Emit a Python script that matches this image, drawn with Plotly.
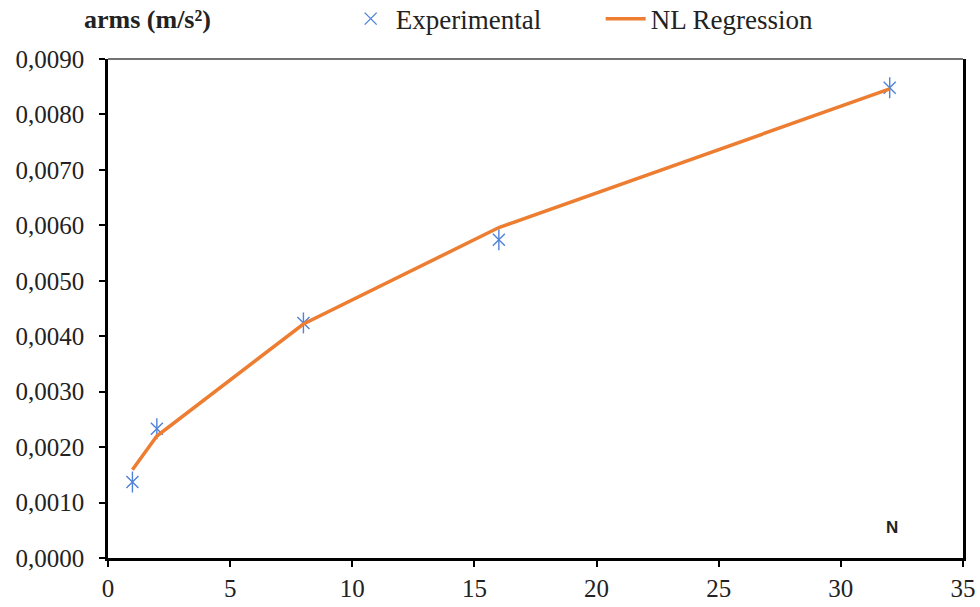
import plotly.graph_objects as go

# Sample counts and measured RMS acceleration
n_values = [1, 2, 8, 16, 32]
arms_experimental = [0.00137, 0.00233, 0.00424, 0.00574, 0.00848]
arms_regression = [0.00159, 0.00220, 0.00422, 0.00596, 0.00846]

y_ticks = [0.000, 0.001, 0.002, 0.003, 0.004, 0.005, 0.006, 0.007, 0.008, 0.009]
x_ticks = [0, 5, 10, 15, 20, 25, 30, 35]

serif = "Liberation Serif"
text_color = "#222222"
marker_color = "#4F82D8"

fig = go.Figure()
# Star marker: a thin X plus a vertical stroke
fig.add_trace(go.Scatter(
    x=n_values, y=arms_experimental, mode="markers", name="Experimental",
    legendgroup="exp",
    marker=dict(symbol="x-thin-open", size=12, color=marker_color,
                line=dict(width=1.4, color=marker_color)),
))
fig.add_trace(go.Scatter(
    x=n_values, y=arms_experimental, mode="markers", name="Experimental",
    legendgroup="exp", showlegend=False,
    marker=dict(symbol="line-ns-open", size=15, color=marker_color,
                line=dict(width=1.4, color=marker_color)),
))
fig.add_trace(go.Scatter(
    x=n_values, y=arms_regression, mode="lines", name="NL Regression",
    line=dict(color="#ED7D31", width=3.5),
))

fig.update_layout(
    width=980, height=607,
    margin=dict(l=108, r=17, t=59, b=49, autoexpand=False),
    paper_bgcolor="white", plot_bgcolor="white",
    separators=", ",
    font=dict(family=serif, size=25, color=text_color),
    showlegend=True,
    legend=dict(orientation="h", x=0.278, y=1.08, xanchor="left", yanchor="middle",
                font=dict(family=serif, size=27, color=text_color),
                itemwidth=40, tracegroupgap=0, bgcolor="rgba(0,0,0,0)",
                entrywidth=200),
    xaxis=dict(range=[0, 35], tickvals=x_ticks, showgrid=False, zeroline=False,
               showline=True, linecolor="black", linewidth=2.5,
               ticks="outside", ticklen=6, tickwidth=1.5, tickcolor="black",
               tickfont=dict(family=serif, size=25, color=text_color)),
    yaxis=dict(range=[0, 0.009], tickvals=y_ticks, tickformat=".4f", showgrid=False,
               zeroline=False, showline=True, linecolor="black", linewidth=2.5,
               mirror=True, ticklabelstandoff=10,
               ticks="outside", ticklen=6, tickwidth=1.5, tickcolor="black",
               tickfont=dict(family=serif, size=25, color=text_color)),
    shapes=[dict(type="line", xref="paper", yref="paper", x0=0, x1=1, y0=1, y1=1,
                 line=dict(color="#444444", width=1.5))],
    annotations=[
        dict(text="<b>arms (m/s²)</b>", xref="paper", yref="paper", x=0.046, y=1.08,
             xanchor="center", yanchor="middle", showarrow=False,
             font=dict(family=serif, size=26, color=text_color)),
        dict(text="<b>N</b>", x=32.1, y=0.00055, xanchor="center", yanchor="middle",
             showarrow=False,
             font=dict(family="Liberation Sans", size=17, color=text_color)),
    ],
)

fig.write_html("out.html")
